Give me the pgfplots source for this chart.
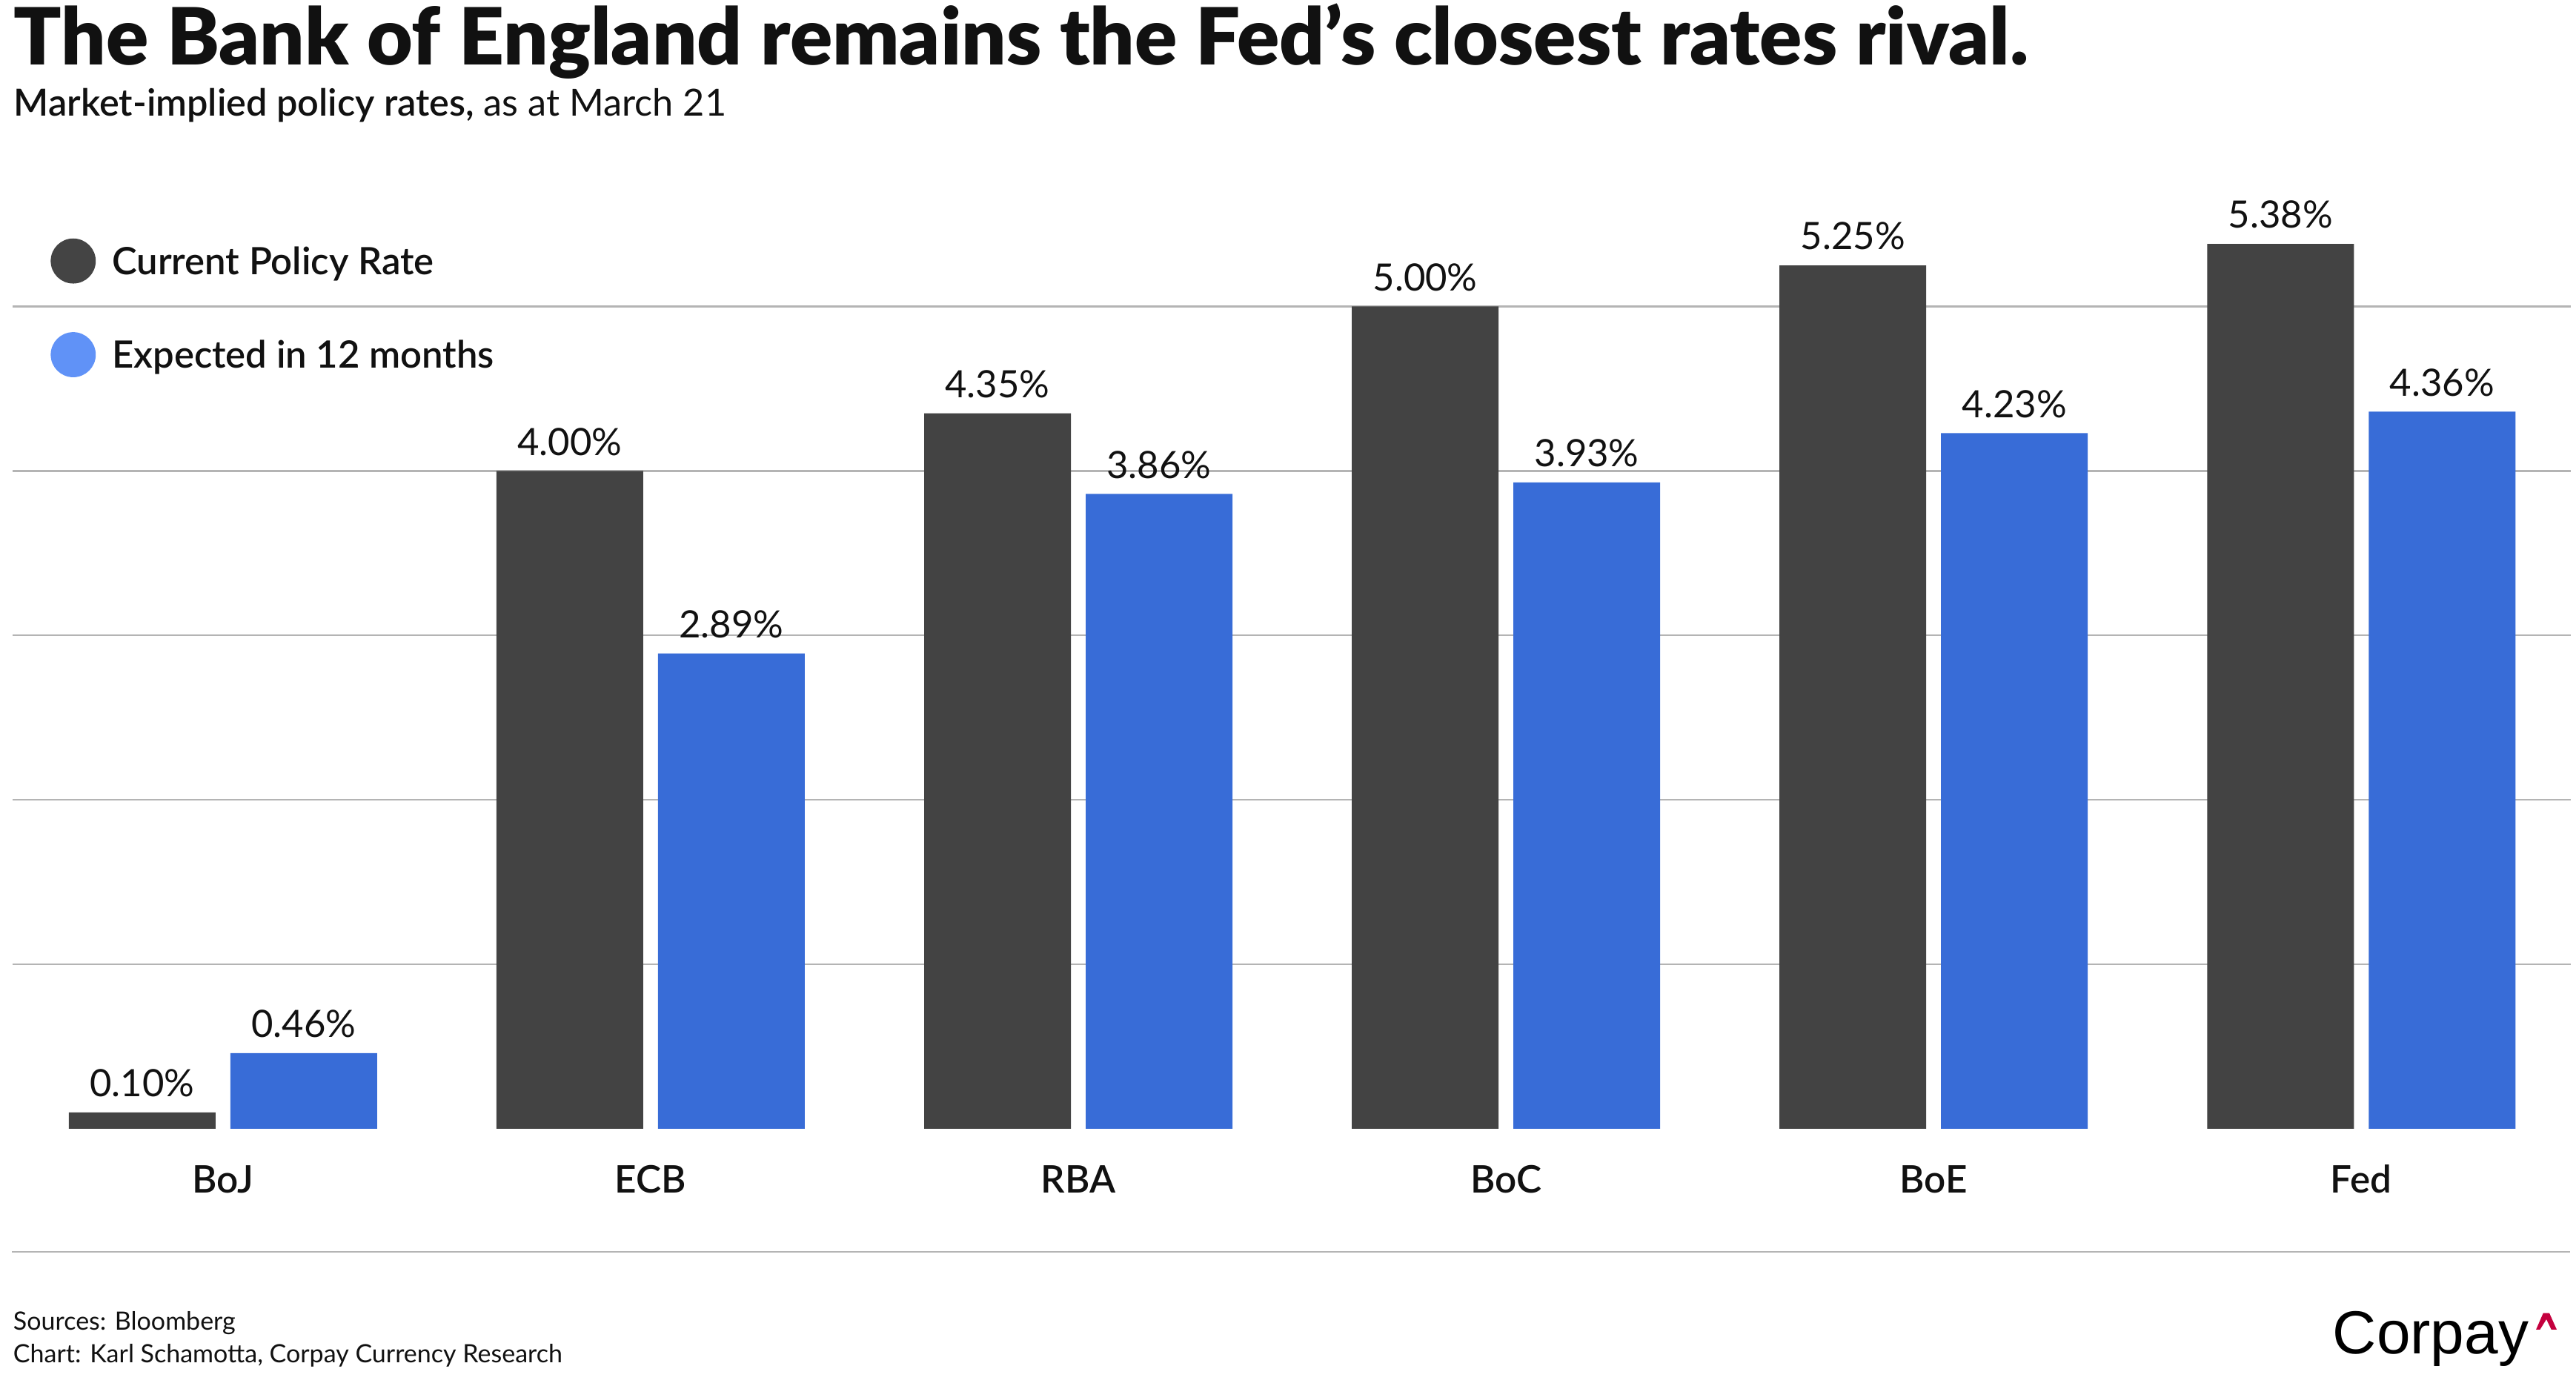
\documentclass[border=0pt]{standalone}
\usepackage{fontspec}
\setmainfont{Lato}
\newfontfamily\logofont{Liberation Sans}
\IfFontExistsTF{Lato Black}{\newfontfamily\titlefont{Lato Black}}{\newcommand\titlefont{\bfseries}}
\IfFontExistsTF{Lato Semibold}{\newfontfamily\medfont{Lato Semibold}}{%
  \IfFontExistsTF{Lato Medium}{\newfontfamily\medfont{Lato Medium}}{\newcommand\medfont{\bfseries}}}
\usepackage{pgfplots}
\usepackage{pgfplotstable}
\pgfplotsset{compat=1.18}

\definecolor{bardark}{HTML}{434343}
\definecolor{barblue}{HTML}{386CD7}
\definecolor{legdark}{HTML}{444444}
\definecolor{legblue}{HTML}{6092F7}
\definecolor{gridgray}{HTML}{B4B4B4}
\definecolor{txt}{HTML}{111111}
\definecolor{logored}{HTML}{C4003E}

% policy rates, in per cent
\pgfplotstableread{
x cur exp
0 0.10 0.46
1 4.00 2.89
2 4.35 3.86
3 5.00 3.93
4 5.25 4.23
5 5.38 4.36
}\rates

\begin{document}
\begin{tikzpicture}
\path[use as bounding box] (0,0) rectangle (869pt,467.5pt);

% titles
\node[anchor=base west, inner sep=0pt, text=txt, font=\titlefont\fontsize{26.6}{30}\selectfont]
  at (4.5pt,445.5pt) {The Bank of England remains the Fed’s closest rates rival.};
\node[anchor=base west, inner sep=0pt, text=txt, font=\fontsize{12.6}{14}\selectfont]
  at (4.5pt,428.25pt) {{\medfont Market-implied policy rates,} as at March 21};

\begin{axis}[
  at={(4.25pt,86.75pt)}, anchor=south west,
  scale only axis, width=863pt, height=310.66pt,
  xmin=-0.492, xmax=5.49, ymin=0, ymax=5.6,
  axis line style={draw=none},
  tick style={draw=none},
  ytick={1,2,3,4,5}, yticklabels={},
  ymajorgrids, grid style={gridgray, line width=0.6pt},
  xtick={0,...,5}, xticklabels={BoJ,ECB,RBA,BoC,BoE,Fed},
  xticklabel style={anchor=base, yshift=-17.25pt, text=txt,
    font=\medfont\fontsize{12.8}{14}\selectfont},
  ybar=5pt, bar width=49.5pt,
  clip=false,
  /pgf/number format/assume math mode=true,
  nodes near coords={\pgfmathprintnumber[fixed,fixed zerofill,precision=2]{\pgfplotspointmeta}\%},
  every node near coord/.append style={inner sep=0pt, yshift=5pt, text=txt,
    font=\fontsize{12.7}{14}\selectfont},
  legend style={at={(axis description cs:0,1)}, anchor=north west,
    xshift=12.85pt, yshift=-10.35pt, draw=none, fill=none,
    inner sep=0pt, outer sep=0pt, row sep=16.4pt, column sep=5.5pt,
    font=\medfont\fontsize{12.7}{14}\selectfont, text=txt,
    nodes={inner sep=0pt}},
  legend cell align=left,
]
\addlegendimage{legend image code/.code={\fill[legdark] (7.4pt,0.6pt) circle (7.4pt);}}
\addlegendimage{legend image code/.code={\fill[legblue] (7.4pt,0.6pt) circle (7.4pt);}}

\addplot[fill=bardark, draw=none] table[x=x, y=cur] {\rates};
\addplot[fill=barblue, draw=none] table[x=x, y=exp] {\rates};

\legend{Current Policy Rate, Expected in 12 months}
\end{axis}

% footer
\draw[gridgray, line width=0.6pt] (4pt,45.2pt) -- (867pt,45.2pt);
\node[anchor=base west, inner sep=0pt, text=txt, font=\fontsize{8.5}{10}\selectfont]
  at (4.3pt,18.9pt) {Sources: Bloomberg};
\node[anchor=base west, inner sep=0pt, text=txt, font=\fontsize{8.5}{10}\selectfont]
  at (4.3pt,7.75pt) {Chart: Karl Schamotta, Corpay Currency Research};
\node[anchor=base west, inner sep=0pt, font=\logofont\fontsize{20.5}{24}\selectfont]
  at (786.75pt,10.8pt) {Corpay};
\fill[logored] (855.5pt,19pt) -- (857.93pt,24.58pt) -- (860pt,24.58pt) -- (862.5pt,19pt)
  -- (860.68pt,19pt) -- (859pt,22.5pt) -- (856.83pt,19pt) -- cycle;
\end{tikzpicture}
\end{document}
